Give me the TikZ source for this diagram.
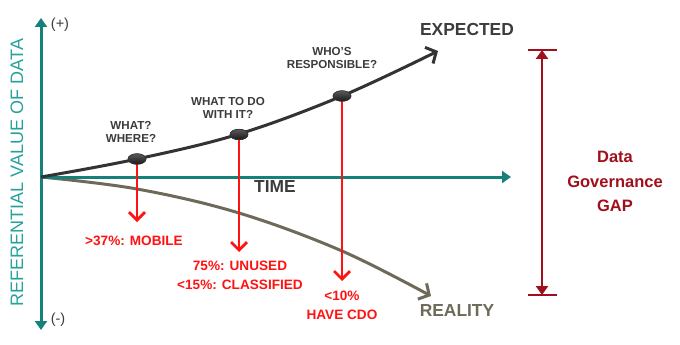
\documentclass[tikz,border=0pt]{standalone}
\usepackage{fontspec}
\setmainfont{Liberation Sans}
\usetikzlibrary{arrows.meta,shapes.geometric}
\definecolor{axisteal}{HTML}{16807A}
\definecolor{labelteal}{HTML}{26A29B}
\definecolor{curvedark}{HTML}{333333}
\definecolor{realgray}{HTML}{6E6A5A}
\definecolor{txtgray}{HTML}{3C3C3C}
\definecolor{redA}{HTML}{FF1212}
\definecolor{gapred}{HTML}{A0101A}
\tikzset{
  axisline/.style={draw=axisteal, line width=3pt, -{Triangle[length=9pt,width=12pt]}},
  qtext/.style={font=\bfseries\fontsize{11.6}{13}\selectfont, text=txtgray, align=center, inner sep=0pt},
  redtext/.style={font=\bfseries\fontsize{13.6}{19}\selectfont, text=redA, align=center, inner sep=0pt},
  bigtext/.style={font=\bfseries\fontsize{17.4}{20}\selectfont, inner sep=0pt},
  redarrow/.style={draw=redA, line width=2.8pt, -{Straight Barb[length=8pt,width=16pt,line width=2.8pt]}},
  dot/.style={ellipse, minimum width=18pt, minimum height=10.5pt, inner sep=0pt, draw=black!80, line width=0.6pt, top color=gray!70!black, bottom color=black!90},
  gaparrow/.style={draw=gapred, line width=2.8pt, {Triangle[length=9pt,width=12pt]}-{Triangle[length=9pt,width=12pt]}},
}
\begin{document}
\begin{tikzpicture}[x=1pt,y=-1pt]
\useasboundingbox (0,0) rectangle (680,345);
% origin
\coordinate (O) at (41,177);
\coordinate (ytop) at (41,18);
\coordinate (ybot) at (41,330);
\coordinate (xend) at (511,177);
% reality curve
\coordinate (realend) at (431,296);
\draw[realgray, line width=3pt, -{Straight Barb[length=8pt,width=18pt,line width=3pt]}]
  plot[smooth, tension=0.6] coordinates {(41,177) (137,189) (239,213) (342,251) (431,296)};
% axes
\draw[axisline] (O) -- (ytop);
\draw[axisline] (O) -- (ybot);
\draw[axisline] (O) -- (xend);
% expected curve
\draw[curvedark, line width=3pt, -{Straight Barb[length=8pt,width=18pt,line width=3pt]}]
  plot[smooth, tension=0.6] coordinates {(41,177) (137,159) (239,134) (342,96) (438,51)};
% dots
\node[dot] (d1) at (137,159) {};
\node[dot] (d2) at (239,134.5) {};
\node[dot] (d3) at (342,96) {};
% red arrows
\coordinate (r1) at (137,222);
\coordinate (r2) at (239,252);
\coordinate (r3) at (342,281);
\draw[redarrow] (d1.center) -- (r1);
\draw[redarrow] (d2.center) -- (r2);
\draw[redarrow] (d3.center) -- (r3);
\node[dot] at (137,159) {};
\node[dot] at (239,134.5) {};
\node[dot] at (342,96) {};
% axis labels
\node[font=\fontsize{18}{20}\selectfont, text=labelteal, rotate=90, inner sep=0pt] (ylab) at (17,172.5) {REFERENTIAL VALUE OF DATA};
\node[font=\fontsize{14.5}{16}\selectfont, text=txtgray, inner sep=0pt] (plus) at (60,25) {(+)};
\node[font=\fontsize{14.5}{16}\selectfont, text=txtgray, inner sep=0pt] (minus) at (58,320) {(-)};
\node[bigtext, text=txtgray] (time) at (275,187) {TIME};
\node[bigtext, text=txtgray] (exp) at (467,30) {EXPECTED};
\node[bigtext, text=realgray] (real) at (457,310.5) {REALITY};
% questions
\node[qtext] (q1) at (131,131.5) {WHAT?\\WHERE?};
\node[qtext] (q2) at (228,107.5) {WHAT TO DO\\WITH IT?};
\node[qtext] (q3) at (332,58.5) {WHO'S\\RESPONSIBLE?};
% red labels
\node[redtext] (l1) at (134,241) {>37\%: MOBILE};
\node[redtext] (l2) at (240,275) {75\%: UNUSED\\<15\%: CLASSIFIED};
\node[redtext] (l3) at (342,305) {<10\%\\HAVE CDO};
% gap
\coordinate (gt) at (542,50);
\coordinate (gb) at (542,295);
\draw[gapred, line width=1.3pt] (528,50) -- (557,50);
\draw[gapred, line width=1.3pt] (528,295) -- (557,295);
\draw[gaparrow] (gt) -- (gb);
\node[font=\bfseries\fontsize{16.5}{24.5}\selectfont, text=gapred, align=center, inner sep=0pt] (gap) at (615,181.5) {Data\\Governance\\GAP};
\end{tikzpicture}
\end{document}
